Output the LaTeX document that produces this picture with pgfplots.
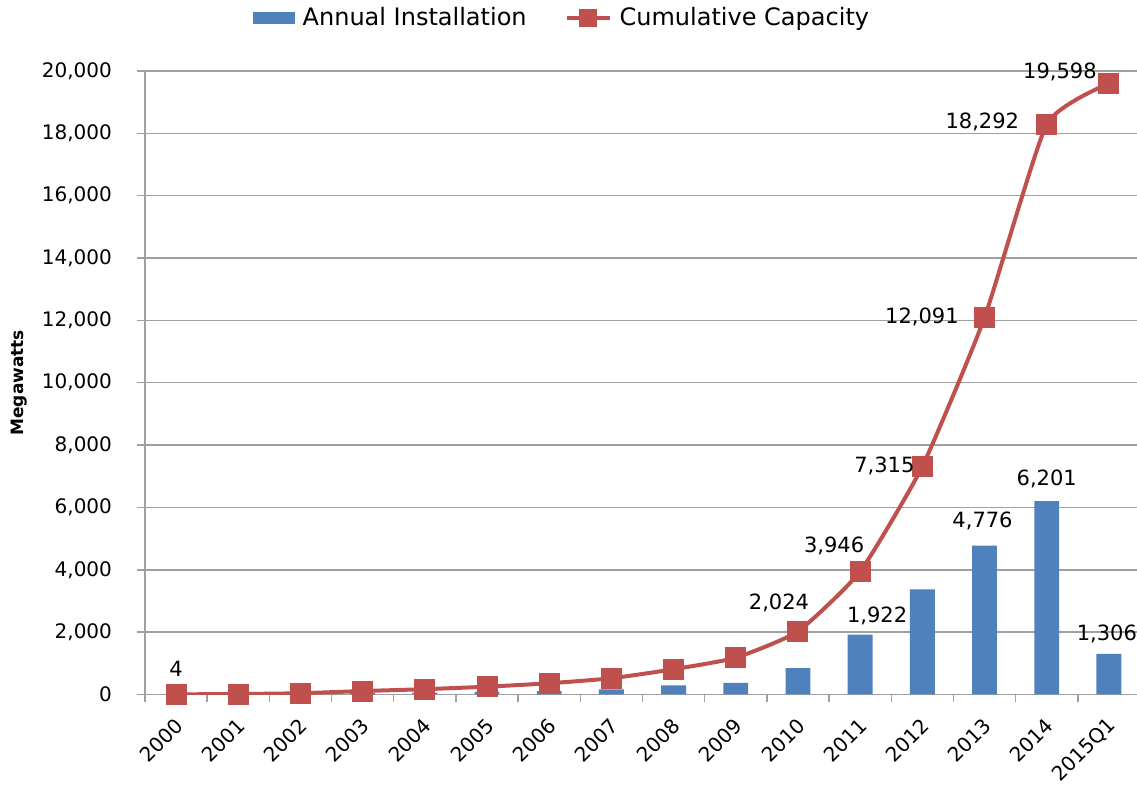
\documentclass[border=0pt]{standalone}
\usepackage{fontspec}
\setmainfont{DejaVu Sans}
\usepackage{pgfplots}
\pgfplotsset{compat=1.18}
\usepackage{pgfplotstable}
\definecolor{barblue}{RGB}{79,129,189}
\definecolor{linered}{RGB}{192,80,77}
\definecolor{gridgray}{RGB}{160,160,160}

\pgfplotstableread{
x cum lab dx dy
0 4 4 0 12.9
1 15 {} 0 0
2 40 {} 0 0
3 110 {} 0 0
4 170 {} 0 0
5 250 {} 0 0
6 360 {} 0 0
7 520 {} 0 0
8 810 {} 0 0
9 1180 {} 0 0
10 2024 {2,024} -9.5 14
11 3946 {3,946} -13 13
12 7315 {7,315} -19 0.5
13 12091 {12,091} -31.3 0.5
14 18292 {18,292} -32.2 1
15 19598 {19,598} -24.5 5.7
}\cumtable

\pgfplotstableread{
x ann lab dx dy
0 4 {} 0 0
1 11 {} 0 0
2 25 {} 0 0
3 60 {} 0 0
4 60 {} 0 0
5 80 {} 0 0
6 110 {} 0 0
7 160 {} 0 0
8 290 {} 0 0
9 370 {} 0 0
10 845 {} 0 0
11 1922 {1,922} 8.5 9.5
12 3369 {} 0 0
13 4776 {4,776} -1 12.2
14 6201 {6,201} 0 11
15 1306 {1,306} -1 10
}\anntable

\begin{document}
\begin{tikzpicture}
\begin{axis}[
  scale only axis,
  width=497.5pt, height=311.75pt,
  xmin=-0.5, xmax=15.5, ymin=0, ymax=20000,
  axis x line*=bottom, axis y line*=left,
  axis line style={draw=gridgray, line width=0.75pt, -},
  ytick={0,2000,...,20000},
  ymajorgrids,
  grid style={draw=gridgray, line width=0.75pt},
  xtick={-0.5,0.5,...,15.5},
  xticklabels={2000,2001,2002,2003,2004,2005,2006,2007,2008,2009,2010,2011,2012,2013,2014,2015Q1},
  x tick label as interval,
  tick align=outside,
  major tick length=4pt,
  tick style={draw=gridgray, line width=0.75pt},
  scaled y ticks=false,
  /pgf/number format/assume math mode=true,
  yticklabel style={/pgf/number format/fixed, /pgf/number format/1000 sep={,}, font=\fontsize{10}{12}\selectfont, xshift=-9pt},
  xticklabel style={font=\fontsize{10}{12}\selectfont, xshift=4pt, yshift=-7.5pt, rotate=45, anchor=east},
  ylabel={\bfseries Megawatts},
  ylabel style={font=\fontsize{8.5}{10}\selectfont, at={(axis description cs:-0.1266,0.5)}, anchor=center},
  legend style={at={(axis description cs:0.42,1.085)}, anchor=center, draw=none, fill=none,
    font=\fontsize{12}{14}\selectfont, legend columns=2,
    /tikz/every odd column/.append style={column sep=2pt},
    /tikz/every even column/.append style={column sep=17pt}},
  legend cell align=left,
]
\addplot[ybar, bar width=0.4, fill=barblue, draw=none,
  nodes near coords, point meta=explicit symbolic,
  visualization depends on={\thisrow{dx} \as \mydx},
  visualization depends on={\thisrow{dy} \as \mydy},
  nodes near coords style={font=\fontsize{10.5}{12}\selectfont, text=black, anchor=center, xshift=\mydx pt, yshift=\mydy pt},
  legend image code/.code={\fill[barblue] (0pt,-3pt) rectangle (21pt,3pt);}
] table[x=x, y=ann, meta=lab] {\anntable};
\addlegendentry{Annual Installation}
\addplot[color=linered, line width=2pt, smooth, tension=0.3, mark=square*, mark size=5pt,
  mark options={solid, fill=linered, draw=linered, line width=0pt},
  nodes near coords, point meta=explicit symbolic,
  visualization depends on={\thisrow{dx} \as \mydx},
  visualization depends on={\thisrow{dy} \as \mydy},
  nodes near coords style={font=\fontsize{10.5}{12}\selectfont, text=black, anchor=center, xshift=\mydx pt, yshift=\mydy pt},
  legend image code/.code={\draw[linered, line width=2pt] (0pt,0pt) -- (21.5pt,0pt);
    \fill[linered] (7.25pt,-3.5pt) rectangle (14.25pt,3.5pt);}
] table[x=x, y=cum, meta=lab] {\cumtable};
\addlegendentry{Cumulative Capacity}
\coordinate (sw) at (rel axis cs:0,0);
\coordinate (ne) at (rel axis cs:1,1);
\end{axis}
\pgfresetboundingbox
\path[use as bounding box] ([xshift=-72.5pt, yshift=-47.75pt]sw) rectangle ([xshift=-1.5pt, yshift=35.5pt]ne);
\end{tikzpicture}
\end{document}
